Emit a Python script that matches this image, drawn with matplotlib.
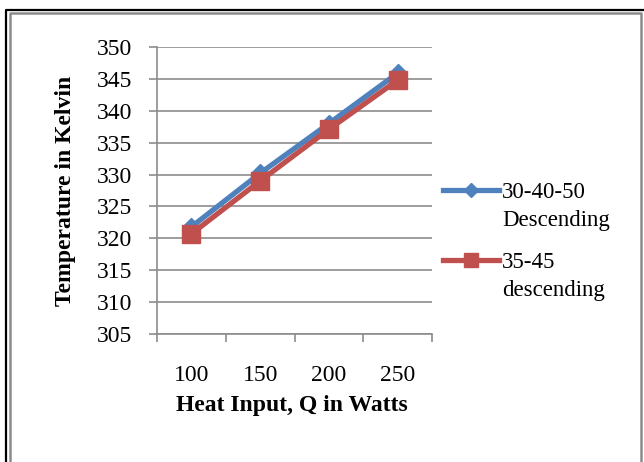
import matplotlib.pyplot as plt
from matplotlib.lines import Line2D

# Heat input categories and measured temperatures (K)
heat_input = ["100", "150", "200", "250"]
temp_30_40_50 = [321.8, 330.2, 338.0, 345.9]
temp_35_45 = [320.7, 329.0, 337.1, 344.8]

plt.rcParams["font.family"] = ["Liberation Serif", "DejaVu Serif"]

W, H = 644, 462
fig = plt.figure(figsize=(W / 100, H / 100), dpi=100)

# Double border: black outer line, gray inner line
def border(xs, ys, color, lw):
    fig.add_artist(Line2D([x / W for x in xs], [1 - y / H for y in ys],
                          transform=fig.transFigure, color=color, linewidth=lw))

border([6, 6, W], [H, 10, 10], "black", 1.6)
border([10, 10, 641, 641], [H, 13, 13, H], "#8c8c8c", 1.8)

ax = fig.add_axes([157 / W, 1 - 334 / H, (432 - 157) / W, (334 - 47) / H])

x = range(len(heat_input))
ax.plot(x, temp_30_40_50, color="#4F81BD", linewidth=3.8, marker="D",
        markersize=9, label="30-40-50", zorder=3)
ax.plot(x, temp_35_45, color="#C0504D", linewidth=3.8, marker="s",
        markersize=13, label="35-45", zorder=4)

ax.set_xlim(-0.5, 3.5)
ax.set_ylim(305, 350)
ax.set_yticks(range(305, 351, 5))
ax.set_xticks([i - 0.5 for i in range(5)])
ax.set_xticklabels([])
ax.set_xticks(list(x), minor=True)
ax.set_xticklabels(heat_input, minor=True)
ax.tick_params(axis="x", which="minor", length=0, pad=22, labelsize=17)
ax.tick_params(axis="x", which="major", length=6, width=1.2, color="#8c8c8c",
               direction="out")
ax.tick_params(axis="y", length=6, width=1.2, color="#8c8c8c", labelsize=17, pad=12)

ax.grid(axis="y", color="#8c8c8c", linewidth=1.2)
ax.set_axisbelow(True)
for side in ("top", "right"):
    ax.spines[side].set_visible(False)
for side in ("left", "bottom"):
    ax.spines[side].set_color("#8c8c8c")
    ax.spines[side].set_linewidth(1.2)

ax.set_xlabel("Heat Input, Q in Watts", fontsize=17, fontweight="bold")
ax.set_ylabel("Temperature in Kelvin", fontsize=17, fontweight="bold")
ax.xaxis.set_label_coords((292 - 157) / 275, (334 - 395) / 287)
ax.yaxis.set_label_coords((76 - 157) / 275, (334 - 191) / 287)

leg = ax.legend(loc="upper left", bbox_to_anchor=((443 - 157) / 275, (334 - 182) / 287),
                frameon=False, fontsize=16.5, handlelength=2.45, handletextpad=0.12,
                labelspacing=2.15, borderaxespad=0, borderpad=0, markerscale=0.8)

# Second line of each legend label, placed under the first
for txt, extra in zip(leg.get_texts(), ["Descending", "descending"]):
    ax.annotate(extra, xy=(0, 0), xycoords=txt, xytext=(0, -5),
                textcoords="offset points", ha="left", va="top", fontsize=16.5,
                zorder=10)

fig.savefig("out.png", dpi=100)
